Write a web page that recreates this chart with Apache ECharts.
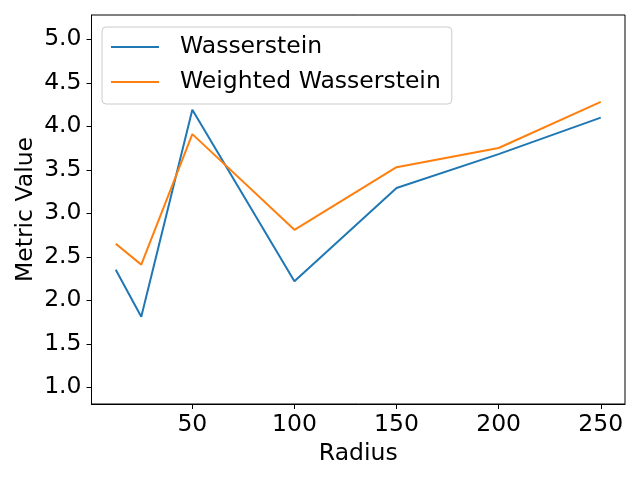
<!DOCTYPE html>
<html><head><meta charset="utf-8">
<script src="https://cdn.jsdelivr.net/npm/echarts@6/dist/echarts.min.js"></script>
<style>html,body{margin:0;padding:0;background:#fff}#c{width:640px;height:480px}</style>
</head><body><div id="c"></div>
<script>
const radius = [12.5, 25, 50, 100, 150, 200, 250];
const wasserstein = [2.35, 1.81, 4.19, 2.22, 3.29, 3.68, 4.10];
const weightedWasserstein = [2.65, 2.41, 3.91, 2.81, 3.53, 3.75, 4.28];
const xTicks = [50, 100, 150, 200, 250];
const yTicks = [1.0, 1.5, 2.0, 2.5, 3.0, 3.5, 4.0, 4.5, 5.0];
const seriesNames = ['Wasserstein', 'Weighted Wasserstein'];

const font = 'DejaVu Sans';
const fs = 23.5;
const chart = echarts.init(document.getElementById('c'), null, {renderer: 'canvas'});
chart.setOption({
  animation: false,
  backgroundColor: '#fff',
  grid: {left: 91.5, right: 15, top: 15, bottom: 76, containLabel: false, outerBoundsMode: 'none',
    show: true, borderColor: '#000', borderWidth: 1, backgroundColor: 'transparent'},
  legend: {
    orient: 'vertical', left: 102, top: 27,
    padding: [8, 11, 10, 9],
    itemWidth: 48, itemHeight: 2, itemGap: 11,
    icon: 'rect',
    borderColor: '#cccccc', borderWidth: 1, borderRadius: 4,
    backgroundColor: 'rgba(255,255,255,0.8)',
    textStyle: {fontFamily: font, fontSize: fs, color: '#000', padding: [0, 0, 0, 16]},
    data: seriesNames
  },
  xAxis: {
    type: 'value', min: 0.625, max: 261.875,
    name: 'Radius', nameLocation: 'middle', nameGap: 38, nameMoveOverlap: false,
    nameTextStyle: {fontFamily: font, fontSize: fs, color: '#000'},
    axisLine: {show: true, onZero: false, lineStyle: {color: '#000', width: 1}},
    axisTick: {show: true, length: 5, customValues: xTicks, lineStyle: {color: '#000'}},
    axisLabel: {customValues: xTicks, fontFamily: font, fontSize: fs, color: '#000', margin: 9},
    splitLine: {show: false}
  },
  yAxis: {
    type: 'value', min: 0.808, max: 5.279,
    name: 'Metric Value', nameLocation: 'middle', nameGap: 54, nameMoveOverlap: false,
    nameTextStyle: {fontFamily: font, fontSize: fs, color: '#000'},
    axisLine: {show: true, onZero: false, lineStyle: {color: '#000', width: 1}},
    axisTick: {show: true, length: 5, customValues: yTicks, lineStyle: {color: '#000'}},
    axisLabel: {customValues: yTicks, fontFamily: font, fontSize: fs, color: '#000', margin: 10,
      formatter: v => v.toFixed(1)},
    splitLine: {show: false}
  },
  series: [
    {name: seriesNames[0], type: 'line', data: radius.map((r, i) => [r, wasserstein[i]]),
     color: '#1f77b4', lineStyle: {width: 2, color: '#1f77b4'}, showSymbol: false, symbol: 'none'},
    {name: seriesNames[1], type: 'line', data: radius.map((r, i) => [r, weightedWasserstein[i]]),
     color: '#ff7f0e', lineStyle: {width: 2, color: '#ff7f0e'}, showSymbol: false, symbol: 'none'}
  ]
});
</script></body></html>
